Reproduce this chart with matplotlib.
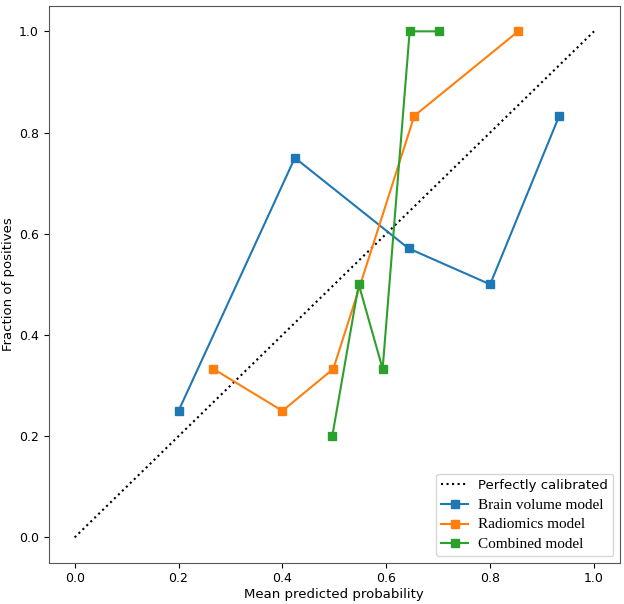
import numpy as np
import matplotlib.pyplot as plt
from matplotlib.font_manager import FontProperties

# calibration curve values
brain_x = [0.200, 0.424, 0.643, 0.800, 0.933]
brain_y = [0.250, 0.750, 0.571, 0.500, 0.833]

radio_x = [0.267, 0.400, 0.498, 0.654, 0.854]
radio_y = [0.333, 0.250, 0.333, 0.833, 1.000]

comb_x = [0.496, 0.547, 0.593, 0.645, 0.701]
comb_y = [0.200, 0.500, 0.333, 1.000, 1.000]

plt.rcParams['font.family'] = ['DejaVu Sans']
plt.rcParams['font.size'] = 9.5

fig = plt.figure(figsize=(6.24, 6.04), dpi=100)
ax = fig.add_axes([0.078, 0.0684, 0.9156, 0.9216])

ax.plot([0, 1], [0, 1], 'k:', label='Perfectly calibrated')
ax.plot(brain_x, brain_y, 's-', color='#1f77b4', label='Brain volume model')
ax.plot(radio_x, radio_y, 's-', color='#ff7f0e', label='Radiomics model')
ax.plot(comb_x, comb_y, 's-', color='#2ca02c', label='Combined model')

ax.set_xlabel('Mean predicted probability', labelpad=2)
ax.set_ylabel('Fraction of positives', labelpad=3)
ax.tick_params(labelsize=9)
for s in ax.spines.values():
    s.set_color('#555555')

leg = ax.legend(loc='lower right', fontsize=9.5)
for t in leg.get_texts()[1:]:
    t.set_fontproperties(FontProperties(family='Liberation Serif', size=11))

fig.savefig('out.png')
